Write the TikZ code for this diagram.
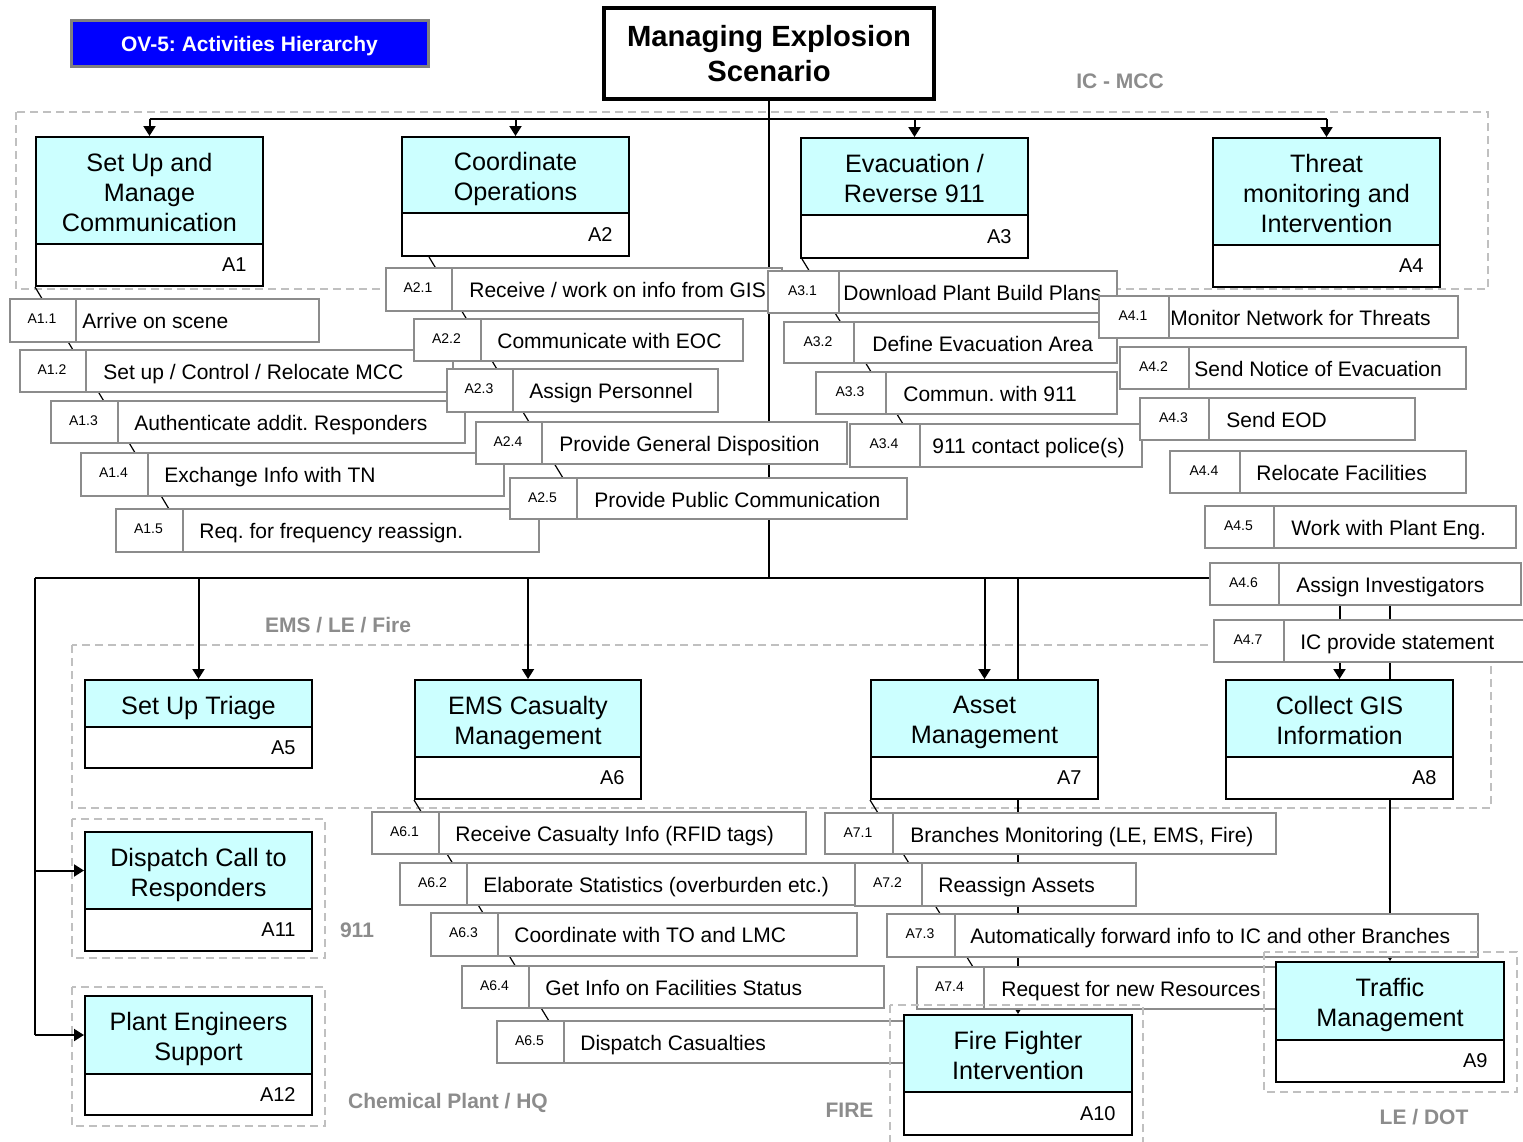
\documentclass[tikz,border=0pt]{standalone}
\usepackage{fontspec}
\setmainfont{Liberation Sans}
\usetikzlibrary{arrows.meta,fit}
\frenchspacing

\pgfdeclarelayer{grp}
\pgfdeclarelayer{lines}
\pgfsetlayers{grp,lines,main}

\definecolor{actcyan}{RGB}{204,255,255}
\definecolor{subgray}{RGB}{140,140,140}
\definecolor{grpgray}{RGB}{192,192,192}
\definecolor{lblgray}{RGB}{140,140,140}
\definecolor{ovblue}{RGB}{0,0,255}
\definecolor{ovframe}{RGB}{128,128,128}

\tikzset{
  titlecell/.style={draw=black, fill=actcyan, line width=1pt, inner sep=0pt},
  idcell/.style={draw=black, fill=white, line width=1pt, inner sep=0pt},
  titletext/.style={align=center, font=\fontsize{12.6}{15}\selectfont, inner sep=0pt,
    execute at end node={\vphantom{p}}, yshift=-2pt},
  idtext/.style={font=\fontsize{10}{12}\selectfont, inner sep=0pt, anchor=east},
  subcell/.style={draw=subgray, fill=white, line width=1pt, inner sep=0pt},
  sublabel/.style={font=\fontsize{7}{8}\selectfont, inner sep=0pt, anchor=base},
  subtext/.style={font=\fontsize{10.5}{12}\selectfont, inner sep=0pt, anchor=base west},
  grpbox/.style={draw=grpgray, line width=0.7pt, dash pattern=on 4pt off 2.5pt},
  grplabel/.style={font=\bfseries\fontsize{10.5}{12}\selectfont, text=lblgray, inner sep=0pt},
  busline/.style={line width=1.4pt},
  dropline/.style={line width=1pt, -{Triangle[length=5pt,width=6pt]}},
  plainline/.style={line width=1pt},
  diagline/.style={line width=0.6pt},
}

% activity box: name, x1, y1, x2, y-divider, y2, title, number
\newcommand{\actbox}[8]{%
  \node[titlecell, fit={(#2,#3) (#4,#5)}] (#1) {};
  \node[titletext] (#1txt) at (#1.center) {#7};
  \node[idcell, fit={(#2,#5) (#4,#6)}] (#1id) {};
  \node[idtext] (#1num) at ({#4-16},{(#5+#6)/2}) {#8};
}

% sub-activity row: name, x1, x-divider, x2, y1, y2, number, text x, text
\newcommand{\subact}[9]{%
  \node[subcell, fit={(#2,#5) (#3,#6)}] (#1n) {};
  \node[subcell, fit={(#3,#5) (#4,#6)}] (#1) {};
  \node[sublabel] (#1lab) at ({(#2+#3)/2-1},{#5+24}) {#7};
  \node[subtext] (#1txt) at (#8,{#5+29.5}) {#9};
}

\begin{document}
\begin{tikzpicture}[x=0.5pt,y=-0.5pt]
\useasboundingbox (0,0) rectangle (1523,1142);

% organisational groups
\begin{pgfonlayer}{grp}
  \fill[white] (0,0) rectangle (1523,1142);
  \draw[grpbox] (16,112) rectangle (1488,289);
  \draw[grpbox] (72,645) rectangle (1491,808);
  \draw[grpbox] (72,819) rectangle (325,958);
  \draw[grpbox] (72,987) rectangle (325,1126);
\end{pgfonlayer}

% header
\node[fill=ovblue, draw=ovframe, line width=1.5pt, inner sep=0pt, fit={(71,20) (428,66)}] (ov5) {};
\node[font=\bfseries\fontsize{10.5}{12}\selectfont, text=white, inner sep=0pt] (ov5txt) at (249.5,46) {OV-5: Activities Hierarchy};

\node[draw=black, fill=white, line width=1.8pt, inner sep=0pt, fit={(604,8) (934,99)}] (top) {};
\node[font=\bfseries\fontsize{14.6}{17.5}\selectfont, align=center, inner sep=0pt] (toptxt) at (top.center) {Managing Explosion\\Scenario};

% group labels
\node[grplabel] (lblic) at (1120,81) {IC - MCC};
\node[grplabel] (lblems) at (338,625) {EMS / LE / Fire};
\node[grplabel] (lbl911) at (357,930) {911};
\node[grplabel] (lblchem) at (448,1103) {Chemical Plant / HQ};
\node[grplabel] (lblfire) at (849.5,1110) {FIRE};
\node[grplabel] (lblle) at (1424,1117) {LE / DOT};

% top-level activities
\actbox{a1}{36}{137}{263}{244}{286}{Set Up and\\Manage\\Communication}{A1}
\actbox{a2}{402}{137}{629}{213}{256}{Coordinate\\Operations}{A2}
\actbox{a3}{801}{138}{1028}{215}{258}{Evacuation /\\Reverse 911}{A3}
\actbox{a4}{1213}{138}{1440}{245}{287}{Threat\\monitoring and\\Intervention}{A4}
\actbox{a5}{85}{680}{312}{727}{768}{Set Up Triage}{A5}
\actbox{a6}{415}{680}{641}{757}{799}{EMS Casualty\\Management}{A6}
\actbox{a7}{871}{680}{1098}{757}{799}{Asset\\Management}{A7}
\actbox{a8}{1226}{680}{1453}{757}{799}{Collect GIS\\Information}{A8}
\actbox{a11}{85}{832}{312}{909}{951}{Dispatch Call to\\Responders}{A11}
\actbox{a12}{85}{996}{312}{1074}{1115}{Plant Engineers\\Support}{A12}

% A1 breakdown
\subact{s11}{10}{76}{319}{299}{342}{A1.1}{82}{Arrive on scene}
\subact{s12}{20}{86}{453}{350}{392}{A1.2}{103}{Set up / Control / Relocate MCC}
\subact{s13}{51}{118}{465}{401}{443}{A1.3}{134}{Authenticate addit. Responders}
\subact{s14}{81}{148}{504}{453}{496}{A1.4}{164}{Exchange Info with TN}
\subact{s15}{116}{183}{539}{509}{552}{A1.5}{199}{Req. for frequency reassign.}

% A2 breakdown
\subact{s21}{386}{452}{782}{268}{311}{A2.1}{469}{Receive / work on info from GIS}
\subact{s22}{414}{481}{743}{319}{361}{A2.2}{497}{Communicate with EOC}
\subact{s23}{447}{513}{718}{369}{412}{A2.3}{529}{Assign Personnel}
\subact{s24}{476}{542}{847}{422}{464}{A2.4}{559}{Provide General Disposition}
\subact{s25}{510}{577}{907}{478}{519}{A2.5}{594}{Provide Public Communication}

% A3 breakdown
\subact{s31}{768}{839}{1117}{271}{313}{A3.1}{843}{Download Plant Build Plans}
\subact{s32}{784}{854}{1117}{322}{363}{A3.2}{872}{Define Evacuation Area}
\subact{s33}{816}{886}{1117}{372}{414}{A3.3}{903}{Commun. with 911}
\subact{s34}{850}{920}{1142}{424}{467}{A3.4}{932}{911 contact police(s)}

% A4 breakdown
\subact{s41}{1099}{1169}{1458}{296}{338}{A4.1}{1170}{Monitor Network for Threats}
\subact{s42}{1120}{1189}{1466}{347}{389}{A4.2}{1194}{Send Notice of Evacuation}
\subact{s43}{1140}{1209}{1415}{398}{440}{A4.3}{1226}{Send EOD}
\subact{s44}{1170}{1240}{1466}{451}{493}{A4.4}{1256}{Relocate Facilities}
\subact{s45}{1205}{1274}{1516}{506}{548}{A4.5}{1291}{Work with Plant Eng.}
\subact{s46}{1210}{1279}{1521}{563}{605}{A4.6}{1296}{Assign Investigators}
\subact{s47}{1214}{1284}{1535}{620}{662}{A4.7}{1300}{IC provide statement}

% A6 breakdown
\subact{s61}{372}{439}{806}{812}{854}{A6.1}{455}{Receive Casualty Info (RFID tags)}
\subact{s62}{400}{467}{857}{863}{905}{A6.2}{483}{Elaborate Statistics (overburden etc.)}
\subact{s63}{431}{498}{857}{913}{956}{A6.3}{514}{Coordinate with TO and LMC}
\subact{s64}{462}{529}{884}{966}{1008}{A6.4}{545}{Get Info on Facilities Status}
\subact{s65}{497}{564}{920}{1021}{1063}{A6.5}{580}{Dispatch Casualties}

% A7 breakdown
\subact{s71}{825}{893}{1276}{813}{854}{A7.1}{910}{Branches Monitoring (LE, EMS, Fire)}
\subact{s72}{855}{922}{1136}{863}{906}{A7.2}{938}{Reassign Assets}
\subact{s73}{887}{955}{1478}{914}{957}{A7.3}{970}{Automatically forward info to IC and other Branches}
\subact{s74}{917}{984}{1290}{967}{1009}{A7.4}{1001}{Request for new Resources}

% groups drawn over the rows
\draw[grpbox] (890,1005) rectangle (1143,1150);
\draw[grpbox] (1264,952) rectangle (1517,1092);

% activities at the bottom of the tree
\actbox{a10}{904}{1015}{1132}{1092}{1135}{Fire Fighter\\Intervention}{A10}
\actbox{a9}{1276}{962}{1504}{1040}{1082}{Traffic\\Management}{A9}

% connectors, kept behind the boxes
\begin{pgfonlayer}{lines}
  \coordinate (hub1) at (769,119);
  \coordinate (hub2) at (769,578);
  \coordinate (lft) at (35,578);
  \draw[busline] (top.south) -- (hub2);
  \draw[busline] (a1.north |- hub1) -- (a4.north |- hub1);
  \foreach \n in {a1,a2,a3,a4}
    \draw[dropline] (\n.north |- hub1) -- (\n.north);
  \draw[busline] (lft) -- (a9.north |- hub2);
  \foreach \n in {a5,a6,a7,a8,a9,a10}
    \draw[dropline] (\n.north |- hub2) -- (\n.north);
  \draw[plainline] (lft) -- (lft |- a12.west);
  \draw[dropline] (lft |- a11.west) -- (a11.west);
  \draw[dropline] (lft |- a12.west) -- (a12.west);

  % decomposition strokes down each list of sub-activities
  \coordinate (d1e) at (169,509);
  \coordinate (d2e) at (563,478);
  \coordinate (d3e) at (903,424);
  \coordinate (d6e) at (549,1021);
  \coordinate (d7e) at (973,967);
  \draw[diagline] (a1id.south west) -- (d1e);
  \draw[diagline] (a2id.south west) ++(28,0) -- (d2e);
  \draw[diagline] (a3id.south west) ++(2,0) -- (d3e);
  \draw[diagline] (a6id.south west) -- (d6e);
  \draw[diagline] (a7id.south west) -- (d7e);
\end{pgfonlayer}
\end{tikzpicture}
\end{document}
